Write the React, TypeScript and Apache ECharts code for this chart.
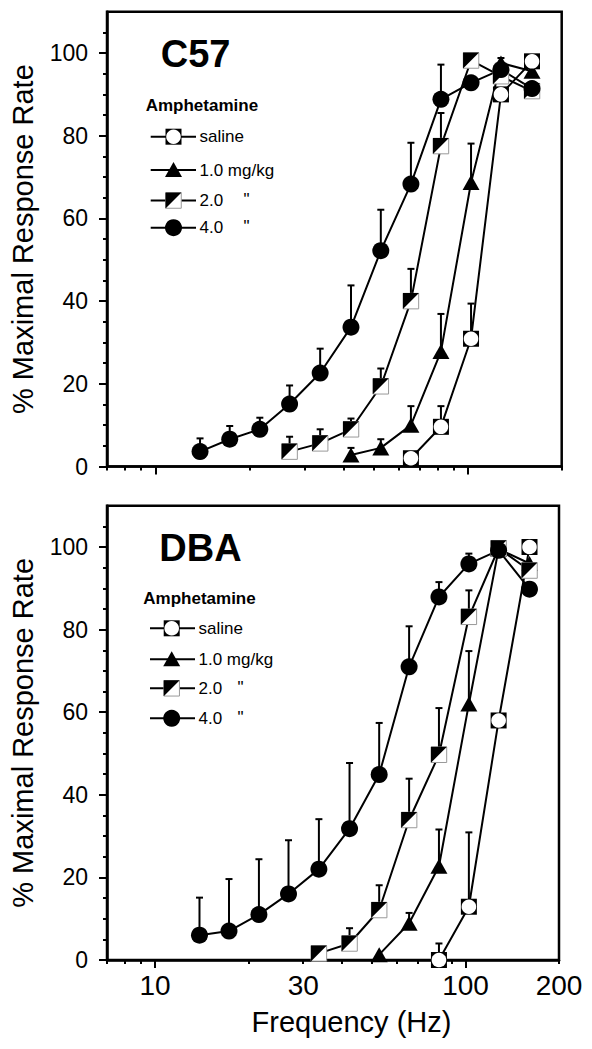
import React, { useEffect, useRef } from "react";
import * as echarts from "echarts";

// ---------- data ----------
const FREQ = [13.9, 17.3, 21.6, 26.9, 33.7, 42.3, 52.7, 65.8, 82.1, 102.5, 127.8, 160.7];

const X_MAJOR_TICKS = [10, 100];
const X_MINOR_TICKS = [7, 8, 9, 20, 30, 40, 50, 60, 70, 80, 90, 200];
const X_LABELS = [10, 30, 100, 200];
const Y_MAJOR_TICKS = [0, 20, 40, 60, 80, 100];
const Y_MINOR_TICKS = [5, 10, 15, 25, 30, 35, 45, 50, 55, 65, 70, 75, 85, 90, 95, 105];

const N = null;
// C57
const C57_SALINE = [N, N, N, N, N, N, N, 2.0, 9.6, 30.9, 90.0, 98.0];
const C57_SALINE_ERR = [N, N, N, N, N, N, N, N, 14.6, 39.4, N, N];
const C57_D1 = [N, N, N, N, N, 2.8, 4.5, 10.0, 27.8, 68.7, 97.6, 95.6];
const C57_D1_ERR = [N, N, N, N, N, 4.5, 6.6, 14.6, 36.9, 78.1, 98.8, N];
const C57_D2 = [N, N, N, 3.6, 5.6, 9.0, 19.4, 40.0, 77.5, 98.2, 94.4, 90.8];
const C57_D2_ERR = [N, N, N, 7.2, 9.0, 11.6, 23.7, 47.8, 85.5, N, N, N];
const C57_D4 = [3.6, 6.6, 9.0, 15.1, 22.6, 33.7, 52.2, 68.3, 88.8, 92.8, 96.0, 91.4];
const C57_D4_ERR = [6.8, 9.8, 11.8, 19.6, 28.5, 43.8, 62.1, 78.3, 97.2, N, N, N];
// DBA
const DBA_SALINE = [N, N, N, N, N, N, N, N, 0.0, 12.9, 58.0, 100.0];
const DBA_SALINE_ERR = [N, N, N, N, N, N, N, N, 4.0, 30.9, N, N];
const DBA_D1 = [N, N, N, N, N, N, 1.3, 8.9, 22.7, 62.0, 99.5, 96.0];
const DBA_D1_ERR = [N, N, N, N, N, N, N, 11.4, 31.6, 74.8, N, N];
const DBA_D2 = [N, N, N, N, 1.6, 4.0, 12.1, 33.9, 49.7, 83.1, 99.7, 94.3];
const DBA_D2_ERR = [N, N, N, N, N, 7.7, 18.1, 43.9, 61.0, 89.5, N, N];
const DBA_D4 = [6.0, 7.0, 11.0, 16.0, 22.0, 31.8, 44.9, 71.0, 87.9, 95.9, 99.2, 89.8];
const DBA_D4_ERR = [15.1, 19.6, 24.4, 29.0, 34.1, 47.7, 57.4, 80.8, 91.5, 98.4, N, N];

const LEGEND_LABELS = ["saline", "1.0 mg/kg", "2.0", "4.0"];
const PANEL_TITLES = ["C57", "DBA"];
const LEGEND_TITLE = "Amphetamine";

const FONT = '"Liberation Sans", Arial, Helvetica, sans-serif';

const pairs = (vals: (number | null)[]) =>
  FREQ.map((f, i) => (vals[i] == null ? null : [f, vals[i] as number])).filter(Boolean) as number[][];
const errTriples = (vals: (number | null)[], errs: (number | null)[]) =>
  FREQ.map((f, i) => (vals[i] == null || errs[i] == null ? null : [f, vals[i] as number, errs[i] as number])).filter(
    Boolean
  ) as number[][];

const TRI_PATH = "path://M0,0L10,0L0,10Z";

function panelSeries(g: number, groups: { v: (number | null)[]; e: (number | null)[] }[]) {
  const xi = g * 2;
  const yi = g * 2;
  const series: any[] = [];
  groups.forEach((grp) => {
    series.push({
      type: "custom",
      xAxisIndex: xi,
      yAxisIndex: yi,
      z: 2,
      silent: true,
      encode: { x: 0, y: [1, 2] },
      data: errTriples(grp.v, grp.e),
      renderItem: (params: any, api: any) => {
        const x = api.value(0);
        const y = api.value(1);
        const hi = api.value(2);
        const p0 = api.coord([x, y]);
        const p1 = api.coord([x, hi]);
        return {
          type: "group",
          children: [
            { type: "line", shape: { x1: p0[0], y1: p0[1], x2: p1[0], y2: p1[1] }, style: { stroke: "#000", lineWidth: 2 } },
            { type: "line", shape: { x1: p1[0] - 3.5, y1: p1[1], x2: p1[0] + 3.5, y2: p1[1] }, style: { stroke: "#000", lineWidth: 2 } },
          ],
        };
      },
    });
  });
  groups.forEach((grp) => {
    series.push({
      type: "line",
      xAxisIndex: xi,
      yAxisIndex: yi,
      z: 3,
      silent: true,
      showSymbol: false,
      symbol: "none",
      lineStyle: { color: "#000", width: 2, opacity: 1 },
      data: pairs(grp.v),
    });
  });
  const base = { type: "scatter", xAxisIndex: xi, yAxisIndex: yi, silent: true };
  // saline: black square with white circle
  series.push({ ...base, z: 4, symbol: "rect", symbolSize: 16, itemStyle: { color: "#000", opacity: 1 }, data: pairs(groups[0].v) });
  series.push({ ...base, z: 5, symbol: "circle", symbolSize: 14.6, itemStyle: { color: "#fff", opacity: 1 }, data: pairs(groups[0].v) });
  // 1.0: triangle
  series.push({ ...base, z: 4, symbol: "triangle", symbolSize: [17, 15], itemStyle: { color: "#000", opacity: 1 }, data: pairs(groups[1].v) });
  // 2.0: half-filled square
  series.push({
    ...base,
    z: 4,
    symbol: "rect",
    symbolSize: 15.5,
    itemStyle: { color: "#fff", borderColor: "#999", borderWidth: 1, opacity: 1 },
    data: pairs(groups[2].v),
  });
  series.push({ ...base, z: 5, symbol: TRI_PATH, symbolSize: 16, itemStyle: { color: "#000", opacity: 1 }, data: pairs(groups[2].v) });
  // 4.0: filled circle
  series.push({ ...base, z: 4, symbol: "circle", symbolSize: 17, itemStyle: { color: "#000", opacity: 1 }, data: pairs(groups[3].v) });
  return series;
}

function legendGraphics(cfg: {
  title: string;
  titleX: number;
  titleY: number;
  headX: number;
  headY: number;
  rows: number[];
  lineX1: number;
  lineX2: number;
  cx: number;
  textX: number;
  quoteX: number;
}) {
  const els: any[] = [];
  const txt = (text: string, x: number, y: number, size: number, weight: string) => ({
    type: "text",
    x,
    y,
    z: 10,
    silent: true,
    style: {
      text,
      fill: "#000",
      fontSize: size,
      fontWeight: weight,
      fontFamily: FONT,
      align: "left",
      verticalAlign: "middle",
      textAlign: "left",
      textVerticalAlign: "middle",
    },
  });
  els.push(txt(cfg.title, cfg.titleX, cfg.titleY, 38, "bold"));
  els.push(txt(LEGEND_TITLE, cfg.headX, cfg.headY, 17, "bold"));
  cfg.rows.forEach((y, i) => {
    els.push({
      type: "line",
      z: 10,
      silent: true,
      shape: { x1: cfg.lineX1, y1: y, x2: cfg.lineX2, y2: y },
      style: { stroke: "#000", lineWidth: 2 },
    });
    els.push(txt(LEGEND_LABELS[i], cfg.textX, y, 17, "normal"));
    if (i >= 2) els.push(txt('"', cfg.quoteX, y - 1, 17, "normal"));
    const cx = cfg.cx;
    if (i === 0) {
      els.push({ type: "rect", z: 11, silent: true, shape: { x: cx - 8, y: y - 8, width: 16, height: 16 }, style: { fill: "#000" } });
      els.push({ type: "circle", z: 12, silent: true, shape: { cx, cy: y, r: 7.3 }, style: { fill: "#fff" } });
    } else if (i === 1) {
      els.push({
        type: "polygon",
        z: 11,
        silent: true,
        shape: { points: [[cx - 8.5, y + 7], [cx + 8.5, y + 7], [cx, y - 8]] },
        style: { fill: "#000" },
      });
    } else if (i === 2) {
      els.push({
        type: "rect",
        z: 11,
        silent: true,
        shape: { x: cx - 7.75, y: y - 7.75, width: 15.5, height: 15.5 },
        style: { fill: "#fff", stroke: "#999", lineWidth: 1 },
      });
      els.push({
        type: "polygon",
        z: 12,
        silent: true,
        shape: { points: [[cx - 8, y - 8], [cx + 8, y - 8], [cx - 8, y + 8]] },
        style: { fill: "#000" },
      });
    } else {
      els.push({ type: "circle", z: 11, silent: true, shape: { cx, cy: y, r: 8.5 }, style: { fill: "#000" } });
    }
  });
  return els;
}

function xAxes(g: number, withLabels: boolean) {
  const common = {
    gridIndex: g,
    type: "log",
    logBase: 10,
    min: 7,
    max: 200,
    position: "bottom",
    splitLine: { show: false },
    minorTick: { show: false },
    minorSplitLine: { show: false },
  };
  return [
    {
      ...common,
      axisLine: { show: true, lineStyle: { color: "#000", width: 2.5 } },
      axisTick: { show: true, length: 8, lineStyle: { color: "#000", width: 2 }, customValues: X_MAJOR_TICKS },
      axisLabel: withLabels
        ? { show: true, customValues: X_LABELS, fontSize: 28, color: "#000", margin: 11, fontFamily: FONT }
        : { show: false },
      name: withLabels ? "Frequency (Hz)" : "",
      nameLocation: "middle",
      nameGap: 47,
      nameTextStyle: { fontSize: 29, color: "#000", fontFamily: FONT, padding: [0, 0, 0, 37] },
    },
    {
      ...common,
      axisLine: { show: false },
      axisTick: { show: true, length: 4, lineStyle: { color: "#000", width: 2 }, customValues: X_MINOR_TICKS },
      axisLabel: { show: false },
    },
  ];
}

function yAxes(g: number) {
  const common = {
    gridIndex: g,
    type: "value",
    min: 0,
    max: 110,
    position: "left",
    splitLine: { show: false },
  };
  return [
    {
      ...common,
      axisLine: { show: true, lineStyle: { color: "#000", width: 2.5 } },
      axisTick: { show: true, length: 8, lineStyle: { color: "#000", width: 2 }, customValues: Y_MAJOR_TICKS },
      axisLabel: { show: true, customValues: Y_MAJOR_TICKS, fontSize: 23, color: "#000", margin: 19, fontFamily: FONT },
      name: "% Maximal Response Rate",
      nameLocation: "middle",
      nameGap: 70,
      nameTextStyle: { fontSize: 29, color: "#000", fontFamily: FONT },
    },
    {
      ...common,
      axisLine: { show: false },
      axisTick: { show: true, length: 4, lineStyle: { color: "#000", width: 2 }, customValues: Y_MINOR_TICKS },
      axisLabel: { show: false },
    },
  ];
}

export default function App() {
  const ref = useRef<HTMLDivElement>(null);
  useEffect(() => {
    if (!ref.current) return;
    const chart = echarts.init(ref.current, undefined, { renderer: "svg" });
    const gridStyle = { show: true, borderColor: "#000", borderWidth: 2.5, backgroundColor: "transparent" };
    const option: any = {
      animation: false,
      backgroundColor: "#fff",
      textStyle: { fontFamily: FONT },
      grid: [
        { ...gridStyle, left: 106.7, top: 11.7, width: 455, height: 454.8 },
        { ...gridStyle, left: 104.3, top: 505.7, width: 454.7, height: 454.3 },
      ],
      xAxis: [...xAxes(0, false), ...xAxes(1, true)],
      yAxis: [...yAxes(0), ...yAxes(1)],
      series: [
        ...panelSeries(0, [
          { v: C57_SALINE, e: C57_SALINE_ERR },
          { v: C57_D1, e: C57_D1_ERR },
          { v: C57_D2, e: C57_D2_ERR },
          { v: C57_D4, e: C57_D4_ERR },
        ]),
        ...panelSeries(1, [
          { v: DBA_SALINE, e: DBA_SALINE_ERR },
          { v: DBA_D1, e: DBA_D1_ERR },
          { v: DBA_D2, e: DBA_D2_ERR },
          { v: DBA_D4, e: DBA_D4_ERR },
        ]),
      ],
      graphic: [
        ...legendGraphics({
          title: PANEL_TITLES[0],
          titleX: 160.7,
          titleY: 54,
          headX: 145.7,
          headY: 105.5,
          rows: [136.7, 170, 200.5, 227.7],
          lineX1: 150.7,
          lineX2: 196,
          cx: 173.5,
          textX: 199.5,
          quoteX: 243.5,
        }),
        ...legendGraphics({
          title: PANEL_TITLES[1],
          titleX: 159.3,
          titleY: 548,
          headX: 143.3,
          headY: 598.3,
          rows: [628.3, 659.3, 688.3, 718.3],
          lineX1: 150,
          lineX2: 195,
          cx: 171.7,
          textX: 198.5,
          quoteX: 237.5,
        }),
      ],
    };
    chart.setOption(option);
    return () => chart.dispose();
  }, []);
  return (
    <div
      ref={ref}
      style={{ position: "absolute", left: 0, top: 0, width: 592, height: 1049, background: "#fff" }}
    />
  );
}
